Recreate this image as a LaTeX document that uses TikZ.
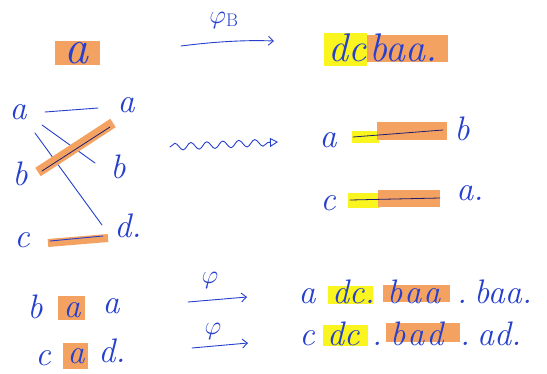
\RequirePackage{fix-cm}
\documentclass[tikz,border=0pt]{standalone}
\usetikzlibrary{arrows.meta,decorations.pathmorphing}
\definecolor{pen}{RGB}{38,64,205}
\definecolor{ink}{RGB}{30,30,110}
\definecolor{hlor}{RGB}{244,162,98}
\definecolor{hlye}{RGB}{250,245,30}
\begin{document}
\begin{tikzpicture}[x=1pt,y=-1pt,
  hw/.style={text=pen,font=\fontsize{34}{36}\selectfont\itshape,inner sep=0pt,anchor=base},
  hwl/.style={hw,anchor=base west},
  big/.style={font=\fontsize{40}{42}\selectfont\itshape},
  orhl/.style={fill=hlor},
  yehl/.style={fill=hlye},
  penline/.style={draw=pen,line width=0.9pt,line cap=round},
  inkline/.style={draw=ink,line width=0.8pt,line cap=round},
  arr/.style={penline,-{Straight Barb[length=5pt,width=9pt]}},
  lab/.style={text=pen,font=\fontsize{26}{28}\selectfont,inner sep=0pt},
]
\useasboundingbox[fill=white] (0,0) rectangle (547,373);

% ---- top row
\fill[orhl] (55,41) rectangle (100,65);
\node[hw,font=\fontsize{48}{50}\selectfont\itshape] (ta) at (76,63) {a};
\coordinate (t1) at (181,46);
\coordinate (t2) at (274,41);
\draw[arr] (t1) .. controls (220,41) and (250,40) .. (t2);
\node[lab] (phib) at (224,20) {$\varphi_{\mathrm{B}}$};
\fill[yehl] (324,33) rectangle (367,66);
\fill[orhl] (367,35) rectangle (448,62);
\node[hw,big,anchor=base west] (tdc) at (328,61) {dc};
\node[hw,big,anchor=base west] (tbaa) at (369,61) {baa.};

% ---- middle left bipartite
\node[hw] (la) at (18,119) {a};
\node[hw] (ra) at (126,112) {a};
\node[hw] (lb) at (20,185) {b};
\node[hw] (rb) at (118,178) {b};
\node[hw] (lc) at (22,247) {c};
\node[hw] (rd) at (128,237) {d.};
\coordinate (e1) at (45,112);
\coordinate (e2) at (98,108);
\draw[penline] (e1) -- (e2);
\coordinate (f1) at (42,125);
\coordinate (f2) at (95,163);
\draw[penline] (f1) -- (f2);
\coordinate (g1) at (35,133);
\coordinate (g2) at (102,225);
\draw[penline] (g1) -- (g2);
\coordinate (h1) at (38,172);
\coordinate (h2) at (113,123);
\draw[hlor,line width=10pt] (h1) -- (h2);
\coordinate (i1) at (42,171);
\coordinate (i2) at (110,127);
\draw[inkline] (i1) -- (i2);
\coordinate (j1) at (48,243);
\coordinate (j2) at (108,238);
\draw[hlor,line width=8pt] (j1) -- (j2);
\coordinate (k1) at (50,241);
\coordinate (k2) at (103,236);
\draw[penline] (k1) -- (k2);

% ---- squiggle
\coordinate (s1) at (170,147);
\coordinate (s2) at (278,142);
\draw[penline,decorate,decoration={snake,amplitude=3.5pt,segment length=16pt,post length=9pt},
  -{Triangle[open,length=8pt,width=9pt]}] (s1) -- (s2);

% ---- middle right
\node[hw] (ma) at (328,147) {a};
\fill[yehl] (352,131) rectangle (379,143);
\fill[orhl] (377,122) rectangle (447,140);
\coordinate (m1) at (353,137);
\coordinate (m2) at (443,130);
\draw[inkline] (m1) -- (m2);
\node[hw] (mb) at (462,140) {b};
\node[hw] (mc) at (328,210) {c};
\fill[yehl] (348,193) rectangle (380,208);
\fill[orhl] (378,190) rectangle (440,207);
\coordinate (n1) at (350,200);
\coordinate (n2) at (440,198);
\draw[inkline] (n1) -- (n2);
\node[hw] (ma2) at (470,200) {a.};

% ---- bottom left
\node[hw] (bb) at (35,318) {b};
\fill[orhl] (58,296) rectangle (85,320);
\node[hw] (ba1) at (72,317) {a};
\node[hw] (ba2) at (111,313) {a};
\node[hw] (cc) at (43,365) {c};
\fill[orhl] (63,343) rectangle (88,369);
\node[hw] (ca) at (76,363) {a};
\node[hw] (cd) at (112,362) {d.};

% ---- bottom arrows
\coordinate (u1) at (188,302);
\coordinate (u2) at (247,297);
\draw[arr] (u1) -- (u2);
\node[lab] (phi1) at (210,280) {$\varphi$};
\coordinate (v1) at (192,348);
\coordinate (v2) at (248,343);
\draw[arr] (v1) -- (v2);
\node[lab] (phi2) at (213,331) {$\varphi$};

% ---- bottom right line 1
\node[hw] (r1a) at (307,303) {a};
\fill[yehl] (328,286) rectangle (373,304);
\node[hwl] (r1dc) at (332,303) {dc.};
\fill[orhl] (383,285) rectangle (450,302);
\node[hwl] (r1baa) at (387,303) {b\kern2pt a\kern2pt a};
\node[hw] (r1p) at (462,303) {.};
\node[hwl] (r1baa2) at (474,303) {baa.};

% ---- bottom right line 2
\node[hw] (r2c) at (307,345) {c};
\fill[yehl] (323,325) rectangle (368,346);
\node[hwl] (r2dc) at (327,345) {dc};
\node[hw] (r2p1) at (377,345) {.};
\fill[orhl] (386,323) rectangle (460,342);
\node[hwl] (r2bad) at (390,345) {b\kern2pt a\kern2pt d};
\node[hw] (r2p2) at (465,345) {.};
\node[hwl] (r2ad) at (477,345) {ad.};
\end{tikzpicture}
\end{document}
